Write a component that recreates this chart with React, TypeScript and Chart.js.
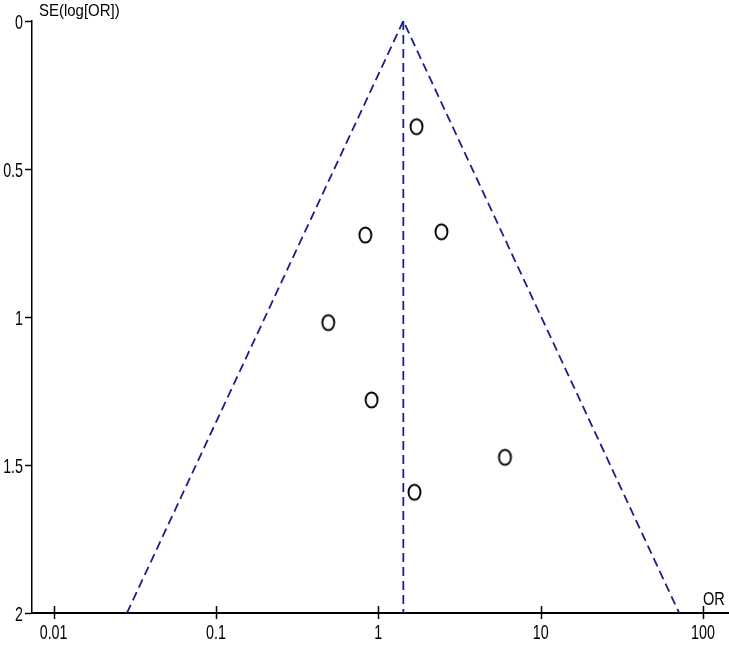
import React, { useEffect, useRef } from "react";
import { Chart, registerables } from "chart.js";
Chart.register(...registerables);

const studyOR = [1.72, 0.832, 2.45, 0.492, 0.909, 6.03, 1.67];
const studySE = [0.357, 0.723, 0.712, 1.019, 1.28, 1.474, 1.592];
const pooledOR = 1.426;
const funnelOR = [0.0283, 1.426, 71.3];
const funnelSE = [2, 0, 2];
const pooledLineSE = [0, 2];
const xTicks = [0.01, 0.1, 1, 10, 100];
const xTickLabels = ["0.01", "0.1", "1", "10", "100"];
const yTicks = [0, 0.5, 1, 1.5, 2];
const yTickLabels = ["0", "0.5", "1", "1.5", "2"];
const yTitle = "SE(log[OR])";
const xTitle = "OR";

const FONT = "'Liberation Sans', Arial, sans-serif";
const NAVY = "#1e1e86";

function makeMarker() {
  const c = document.createElement("canvas");
  c.width = 17;
  c.height = 20;
  const ctx = c.getContext("2d")!;
  ctx.beginPath();
  ctx.ellipse(8.5, 10, 6, 7.5, 0, 0, Math.PI * 2);
  ctx.fillStyle = "#ffffff";
  ctx.fill();
  ctx.lineWidth = 1.9;
  ctx.strokeStyle = "#000000";
  ctx.stroke();
  return c;
}

function drawText(
  ctx: CanvasRenderingContext2D,
  text: string,
  x: number,
  y: number,
  size: number,
  sx: number,
  align: "left" | "center" | "right"
) {
  ctx.save();
  ctx.font = `${size}px ${FONT}`;
  ctx.textBaseline = "alphabetic";
  ctx.textAlign = align;
  ctx.translate(x, y);
  ctx.scale(sx, 1);
  ctx.fillText(text, 0, 0);
  ctx.restore();
}

const decorPlugin = {
  id: "decor",
  afterDraw(chart: any) {
    const ctx = chart.ctx;
    const x = chart.scales.x;
    const y = chart.scales.y;
    const area = chart.chartArea;
    ctx.save();
    ctx.strokeStyle = "#000";
    ctx.lineWidth = 1.5;
    xTicks.forEach((v) => {
      const px = Math.round(x.getPixelForValue(v)) + 0.5;
      ctx.beginPath();
      ctx.moveTo(px, area.bottom - 7);
      ctx.lineTo(px, area.bottom + 6);
      ctx.stroke();
    });
    ctx.fillStyle = "#000";
    xTicks.forEach((v, i) => {
      drawText(ctx, xTickLabels[i], x.getPixelForValue(v), area.bottom + 26, 21, 0.68, "center");
    });
    yTicks.forEach((v, i) => {
      drawText(ctx, yTickLabels[i], area.left - 9, y.getPixelForValue(v) + 7.5, 21, 0.68, "right");
    });
    drawText(ctx, yTitle, area.left + 7, area.top - 5, 17, 0.88, "left");
    drawText(ctx, xTitle, x.getPixelForValue(xTicks[xTicks.length - 1]), area.bottom - 8, 18, 0.81, "left");
    ctx.restore();
  },
};

export default function App() {
  const ref = useRef<HTMLCanvasElement>(null);
  useEffect(() => {
    if (!ref.current) return;
    const marker = makeMarker();
    const chart = new Chart(ref.current, {
      type: "scatter",
      data: {
        datasets: [
          {
            data: funnelOR.map((o, i) => ({ x: o, y: funnelSE[i] })),
            showLine: true,
            borderColor: NAVY,
            borderWidth: 1.8,
            borderDash: [9, 5],
            pointRadius: 0,
            fill: false,
          },
          {
            data: pooledLineSE.map((s) => ({ x: pooledOR, y: s })),
            showLine: true,
            borderColor: NAVY,
            borderWidth: 1.8,
            borderDash: [9, 5],
            pointRadius: 0,
            fill: false,
          },
          {
            data: studyOR.map((o, i) => ({ x: o, y: studySE[i] })),
            pointStyle: marker as any,
            pointRadius: 7,
            clip: false as any,
          },
        ],
      },
      options: {
        responsive: false,
        animation: false,
        layout: { autoPadding: false, padding: { top: 21, right: 0, left: 0, bottom: 0 } },
        plugins: { legend: { display: false }, tooltip: { enabled: false } },
        scales: {
          x: {
            type: "logarithmic",
            bounds: "data",
            min: Math.pow(10, -2.133),
            max: Math.pow(10, 2.16),
            afterBuildTicks: (s: any) => {
              s.ticks = xTicks.map((v) => ({ value: v }));
            },
            afterFit: (s: any) => {
              s.height = 33;
              s.paddingLeft = 0;
              s.paddingRight = 0;
            },
            grid: { display: false },
            border: { display: true, color: "#000", width: 2 },
            ticks: { display: false },
          },
          y: {
            type: "linear",
            bounds: "data",
            reverse: true,
            min: 0,
            max: 2,
            afterBuildTicks: (s: any) => {
              s.ticks = yTicks.map((v) => ({ value: v }));
            },
            afterFit: (s: any) => {
              s.width = 32;
              s.paddingTop = 0;
              s.paddingBottom = 0;
            },
            grid: {
              display: true,
              drawOnChartArea: false,
              drawTicks: true,
              tickLength: 7,
              tickColor: "#000",
              tickWidth: 1.5,
            },
            border: { display: true, color: "#000", width: 1.5 },
            ticks: { display: false },
          },
        },
      },
      plugins: [decorPlugin],
    });
    return () => chart.destroy();
  }, []);
  return (
    <div style={{ position: "fixed", left: 0, top: 0, width: 729, height: 646, background: "#fff" }}>
      <canvas ref={ref} width={729} height={646} style={{ display: "block", width: 729, height: 646 }} />
    </div>
  );
}
